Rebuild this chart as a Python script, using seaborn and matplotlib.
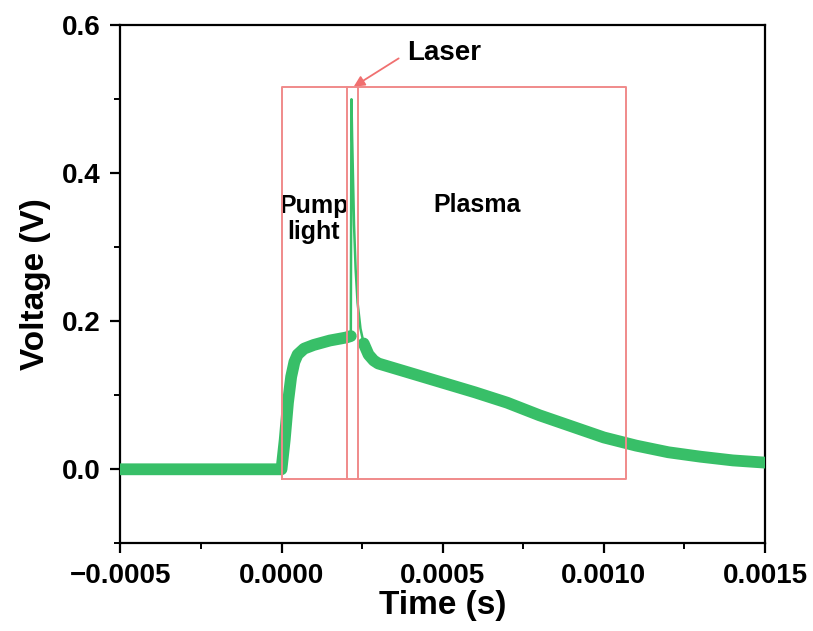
import matplotlib
matplotlib.use("Agg")
import matplotlib.pyplot as plt
from matplotlib.ticker import AutoMinorLocator
import numpy as np
import pandas as pd
import seaborn as sns

# Photodiode trace: time (s) and voltage (V)
time_s = [-0.0005, -0.0003, -0.0001, 0.0, 0.00001, 0.00002, 0.00003, 0.00004,
          0.00005, 0.00007, 0.0001, 0.00015, 0.0002, 0.000215,
          0.000217, 0.000219, 0.000225, 0.00023, 0.000236, 0.000245,
          0.000255, 0.00027, 0.000286, 0.0003, 0.0004, 0.0005, 0.0006,
          0.0007, 0.0008, 0.0009, 0.001, 0.0011, 0.0012, 0.0013, 0.0014,
          0.0015]
voltage_v = [0.0, 0.0, 0.0, 0.0, 0.04, 0.09, 0.125, 0.145,
             0.155, 0.163, 0.168, 0.174, 0.178, 0.18,
             0.50, 0.45, 0.33, 0.27, 0.225, 0.19,
             0.17, 0.155, 0.147, 0.143, 0.13, 0.117, 0.104,
             0.09, 0.073, 0.058, 0.043, 0.032, 0.023, 0.017, 0.012,
             0.009]

# Stage boundaries (s) and box extent (V)
pump_start = 0.0
laser_start = 0.000202
plasma_start = 0.000236
plasma_end = 0.00107
box_bottom = -0.0135
box_top = 0.516

x_ticks = [-0.0005, 0.0, 0.0005, 0.0010, 0.0015]
x_tick_labels = ["\u22120.0005", "0.0000", "0.0005", "0.0010", "0.0015"]
y_ticks = [0.0, 0.2, 0.4, 0.6]
y_tick_labels = ["0.0", "0.2", "0.4", "0.6"]

sns.set_style("ticks")
plt.rcParams["font.family"] = ["Liberation Sans", "DejaVu Sans"]
plt.rcParams["font.weight"] = "bold"
plt.rcParams["axes.labelweight"] = "bold"
plt.rcParams["text.color"] = "black"
plt.rcParams["axes.labelcolor"] = "black"
plt.rcParams["xtick.color"] = "black"
plt.rcParams["ytick.color"] = "black"

df = pd.DataFrame({"t": time_s, "v": voltage_v})
trace_green = "#38bf68"
box_red = "#f08a8a"

fig, ax = plt.subplots(figsize=(8.13, 6.31), dpi=100)
fig.subplots_adjust(left=0.148, right=0.941, bottom=0.139, top=0.960)

# thin trace everywhere (fast rise and laser spike)
sns.lineplot(data=df, x="t", y="v", ax=ax, color=trace_green, lw=1.8,
             estimator=None, sort=True, zorder=3)
# wide noisy band where the signal is slow
noisy_a = df[df["t"] <= 0.000215]
noisy_b = df[df["t"] >= 0.000255]
for part in (noisy_a, noisy_b):
    sns.lineplot(data=part, x="t", y="v", ax=ax, color=trace_green, lw=8.5,
                 estimator=None, sort=True, zorder=3,
                 solid_capstyle="round", solid_joinstyle="round")

# stage boxes
ax.plot([pump_start, plasma_end, plasma_end, pump_start, pump_start],
        [box_bottom, box_bottom, box_top, box_top, box_bottom],
        color=box_red, lw=1.4, zorder=4)
for xb in (laser_start, plasma_start):
    ax.plot([xb, xb], [box_bottom, box_top], color=box_red, lw=1.4, zorder=4)

ax.text(0.0001, 0.338, "Pump\nlight", ha="center", va="center",
        fontsize=18, fontweight="bold", linespacing=1.1)
ax.text(0.000608, 0.357, "Plasma", ha="center", va="center",
        fontsize=18, fontweight="bold")
ax.annotate("Laser", xy=(0.000224, 0.517), xytext=(0.000503, 0.562),
            ha="center", va="center", fontsize=20, fontweight="bold",
            arrowprops=dict(arrowstyle="-|>", color="#f07070", lw=1.3,
                            mutation_scale=16, shrinkA=4, shrinkB=0,
                            relpos=(0.0, 0.5)))

ax.set_xlim(-0.0005, 0.0015)
ax.set_ylim(-0.1, 0.6)
ax.set_xticks(x_ticks)
ax.set_xticklabels(x_tick_labels)
ax.set_yticks(y_ticks)
ax.set_yticklabels(y_tick_labels)
ax.xaxis.set_minor_locator(AutoMinorLocator(2))
ax.yaxis.set_minor_locator(AutoMinorLocator(2))
ax.tick_params(which="major", direction="out", length=7, width=1.6,
               labelsize=20, pad=7, top=False, right=False)
ax.tick_params(which="minor", direction="out", length=4, width=1.4,
               top=False, right=False)
for lab in ax.get_xticklabels() + ax.get_yticklabels():
    lab.set_fontweight("bold")

for side in ("left", "right", "top", "bottom"):
    ax.spines[side].set_visible(True)
    ax.spines[side].set_linewidth(1.6)
    ax.spines[side].set_color("black")

ax.set_xlabel("Time (s)", fontsize=24, fontweight="bold", labelpad=1)
ax.set_ylabel("Voltage (V)", fontsize=24, fontweight="bold", labelpad=8)

fig.savefig("out.png", dpi=100, facecolor="white")
